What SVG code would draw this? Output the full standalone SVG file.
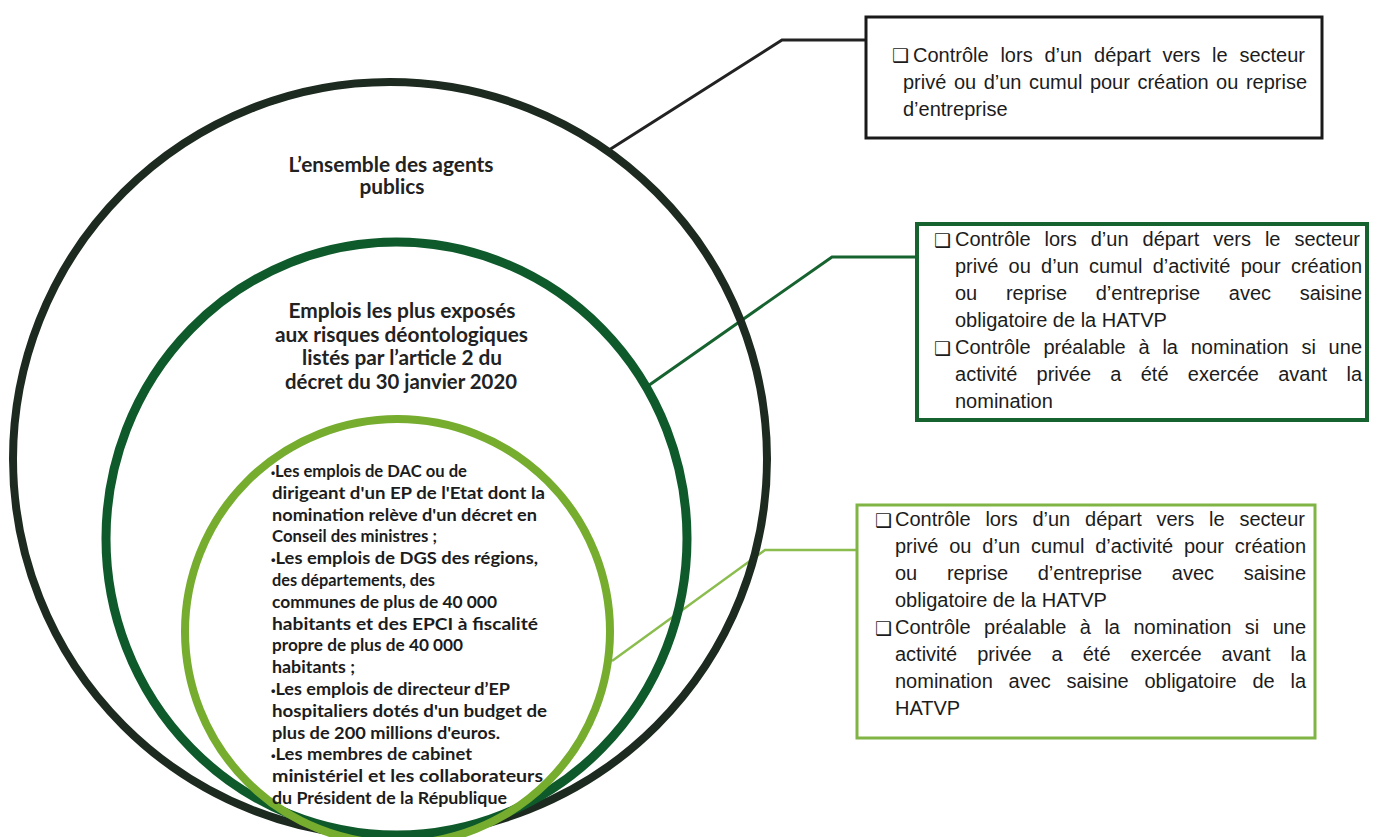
<svg xmlns="http://www.w3.org/2000/svg" width="1384" height="837" viewBox="0 0 1384 837">
<style>
.bg{fill:#ffffff}
.ring{fill:none}
.outer{stroke:#1d2a1f;stroke-width:8}
.middle{stroke:#0e5a2b;stroke-width:9}
.inner{stroke:#76ad2f;stroke-width:8}
.ctitle{font-family:Lato,"Liberation Sans",sans-serif;font-weight:bold;font-size:20px;fill:#222;text-anchor:middle}
.list{font-family:Lato,"Liberation Sans",sans-serif;font-weight:bold;font-size:17px;fill:#1c1c1c}
.bul{font-family:"Liberation Sans",sans-serif;font-size:12px}
.box{fill:#ffffff}
.b1{stroke:#1a1a1a;stroke-width:3}
.b2{stroke:#17632f;stroke-width:4}
.b3{stroke:#80b545;stroke-width:3}
.bt{font-family:"Liberation Sans",Arial,sans-serif;font-size:20px;fill:#1c1c1c}
.chk{font-family:"DejaVu Sans",sans-serif;font-size:19px;fill:#1c1c1c}
.con{fill:none;stroke-linejoin:miter}
</style>
<rect class="bg" x="0" y="0" width="1384" height="837"/>

<g id="connectors">
<polyline class="con" points="609,150 782,40 866,40" stroke="#222222" stroke-width="3"/>
<polyline class="con" points="645,388 832,257 917,257" stroke="#17632f" stroke-width="3"/>
<polyline class="con" points="612,661 765,550 857,550" stroke="#8bbd4e" stroke-width="2.5"/>
</g>

<g id="node-outer">
<circle class="ring outer" cx="390" cy="459" r="377"/>
<text class="ctitle" x="391" y="172" textLength="205" lengthAdjust="spacingAndGlyphs">L’ensemble des agents</text>
<text class="ctitle" x="392" y="194" textLength="65" lengthAdjust="spacingAndGlyphs">publics</text>
</g>

<g id="node-middle">
<ellipse class="ring middle" cx="396.5" cy="538.5" rx="290.5" ry="296.5"/>
<text class="ctitle" x="402" y="318" textLength="227" lengthAdjust="spacingAndGlyphs">Emplois les plus exposés</text>
<text class="ctitle" x="401.5" y="342" textLength="253" lengthAdjust="spacingAndGlyphs">aux risques déontologiques</text>
<text class="ctitle" x="402" y="365" textLength="200" lengthAdjust="spacingAndGlyphs">listés par l’article 2 du</text>
<text class="ctitle" x="401" y="389" textLength="232" lengthAdjust="spacingAndGlyphs">décret du 30 janvier 2020</text>
</g>

<g id="node-inner">
<circle class="ring inner" cx="397.5" cy="631.5" r="212.5"/>
<text class="list" x="271" y="477" textLength="196" lengthAdjust="spacingAndGlyphs"><tspan class="bul">•</tspan>Les emplois de DAC ou de</text>
<text class="list" x="272" y="498.8" textLength="273" lengthAdjust="spacingAndGlyphs">dirigeant d'un EP de l'Etat dont la</text>
<text class="list" x="272" y="520.6" textLength="265" lengthAdjust="spacingAndGlyphs">nomination relève d'un décret en</text>
<text class="list" x="272" y="542.4" textLength="165" lengthAdjust="spacingAndGlyphs">Conseil des ministres ;</text>
<text class="list" x="271" y="564.2" textLength="267" lengthAdjust="spacingAndGlyphs"><tspan class="bul">•</tspan>Les emplois de DGS des régions,</text>
<text class="list" x="272" y="586" textLength="163" lengthAdjust="spacingAndGlyphs">des départements, des</text>
<text class="list" x="272" y="607.8" textLength="225" lengthAdjust="spacingAndGlyphs">communes de plus de 40 000</text>
<text class="list" x="272" y="629.6" textLength="266" lengthAdjust="spacingAndGlyphs">habitants et des EPCI à fiscalité</text>
<text class="list" x="272" y="651.4" textLength="191" lengthAdjust="spacingAndGlyphs">propre de plus de 40 000</text>
<text class="list" x="272" y="673.2" textLength="83" lengthAdjust="spacingAndGlyphs">habitants ;</text>
<text class="list" x="271" y="695" textLength="239" lengthAdjust="spacingAndGlyphs"><tspan class="bul">•</tspan>Les emplois de directeur d’EP</text>
<text class="list" x="272" y="716.8" textLength="275" lengthAdjust="spacingAndGlyphs">hospitaliers dotés d'un budget de</text>
<text class="list" x="272" y="738.6" textLength="228" lengthAdjust="spacingAndGlyphs">plus de 200 millions d'euros.</text>
<text class="list" x="271" y="760.4" textLength="201" lengthAdjust="spacingAndGlyphs"><tspan class="bul">•</tspan>Les membres de cabinet</text>
<text class="list" x="272" y="782.2" textLength="271" lengthAdjust="spacingAndGlyphs">ministériel et les collaborateurs</text>
<text class="list" x="272" y="804" textLength="235" lengthAdjust="spacingAndGlyphs">du Président de la République</text>
</g>

<g id="box1">
<rect class="box b1" x="866" y="17" width="456" height="121"/>
<text class="chk" x="892" y="62" font-weight="bold">❑</text>
<text class="bt" x="913" y="62" word-spacing="6.2" textLength="392" lengthAdjust="spacing">Contrôle lors d’un départ vers le secteur</text>
<text class="bt" x="903" y="89" word-spacing="2" textLength="404" lengthAdjust="spacing">privé ou d’un cumul pour création ou reprise</text>
<text class="bt" x="903" y="116">d’entreprise</text>
</g>

<g id="box2">
<rect class="box b2" x="917" y="224" width="450" height="196"/>
<text class="chk" x="934" y="247">❑</text>
<text class="bt" x="955" y="246" word-spacing="8.4" textLength="405" lengthAdjust="spacing">Contrôle lors d’un départ vers le secteur</text>
<text class="bt" x="955" y="273" word-spacing="4.7" textLength="407" lengthAdjust="spacing">privé ou d’un cumul d’activité pour création</text>
<text class="bt" x="955" y="300" word-spacing="23.1" textLength="407" lengthAdjust="spacing">ou reprise d’entreprise avec saisine</text>
<text class="bt" x="955" y="327">obligatoire de la HATVP</text>
<text class="chk" x="934" y="355">❑</text>
<text class="bt" x="955" y="354" word-spacing="7.2" textLength="407" lengthAdjust="spacing">Contrôle préalable à la nomination si une</text>
<text class="bt" x="955" y="381" word-spacing="13.7" textLength="407" lengthAdjust="spacing">activité privée a été exercée avant la</text>
<text class="bt" x="955" y="408">nomination</text>
</g>

<g id="box3">
<rect class="box b3" x="857" y="505" width="458" height="233"/>
<text class="chk" x="875" y="527">❑</text>
<text class="bt" x="895" y="526" word-spacing="9.2" textLength="410" lengthAdjust="spacing">Contrôle lors d’un départ vers le secteur</text>
<text class="bt" x="895" y="553" word-spacing="5.3" textLength="411" lengthAdjust="spacing">privé ou d’un cumul d’activité pour création</text>
<text class="bt" x="895" y="580" word-spacing="24.1" textLength="411" lengthAdjust="spacing">ou reprise d’entreprise avec saisine</text>
<text class="bt" x="895" y="607">obligatoire de la HATVP</text>
<text class="chk" x="875" y="635">❑</text>
<text class="bt" x="895" y="634" word-spacing="7.9" textLength="411" lengthAdjust="spacing">Contrôle préalable à la nomination si une</text>
<text class="bt" x="895" y="661" word-spacing="14.4" textLength="411" lengthAdjust="spacing">activité privée a été exercée avant la</text>
<text class="bt" x="895" y="688" word-spacing="10.2" textLength="411" lengthAdjust="spacing">nomination avec saisine obligatoire de la</text>
<text class="bt" x="895" y="715">HATVP</text>
</g>
</svg>
